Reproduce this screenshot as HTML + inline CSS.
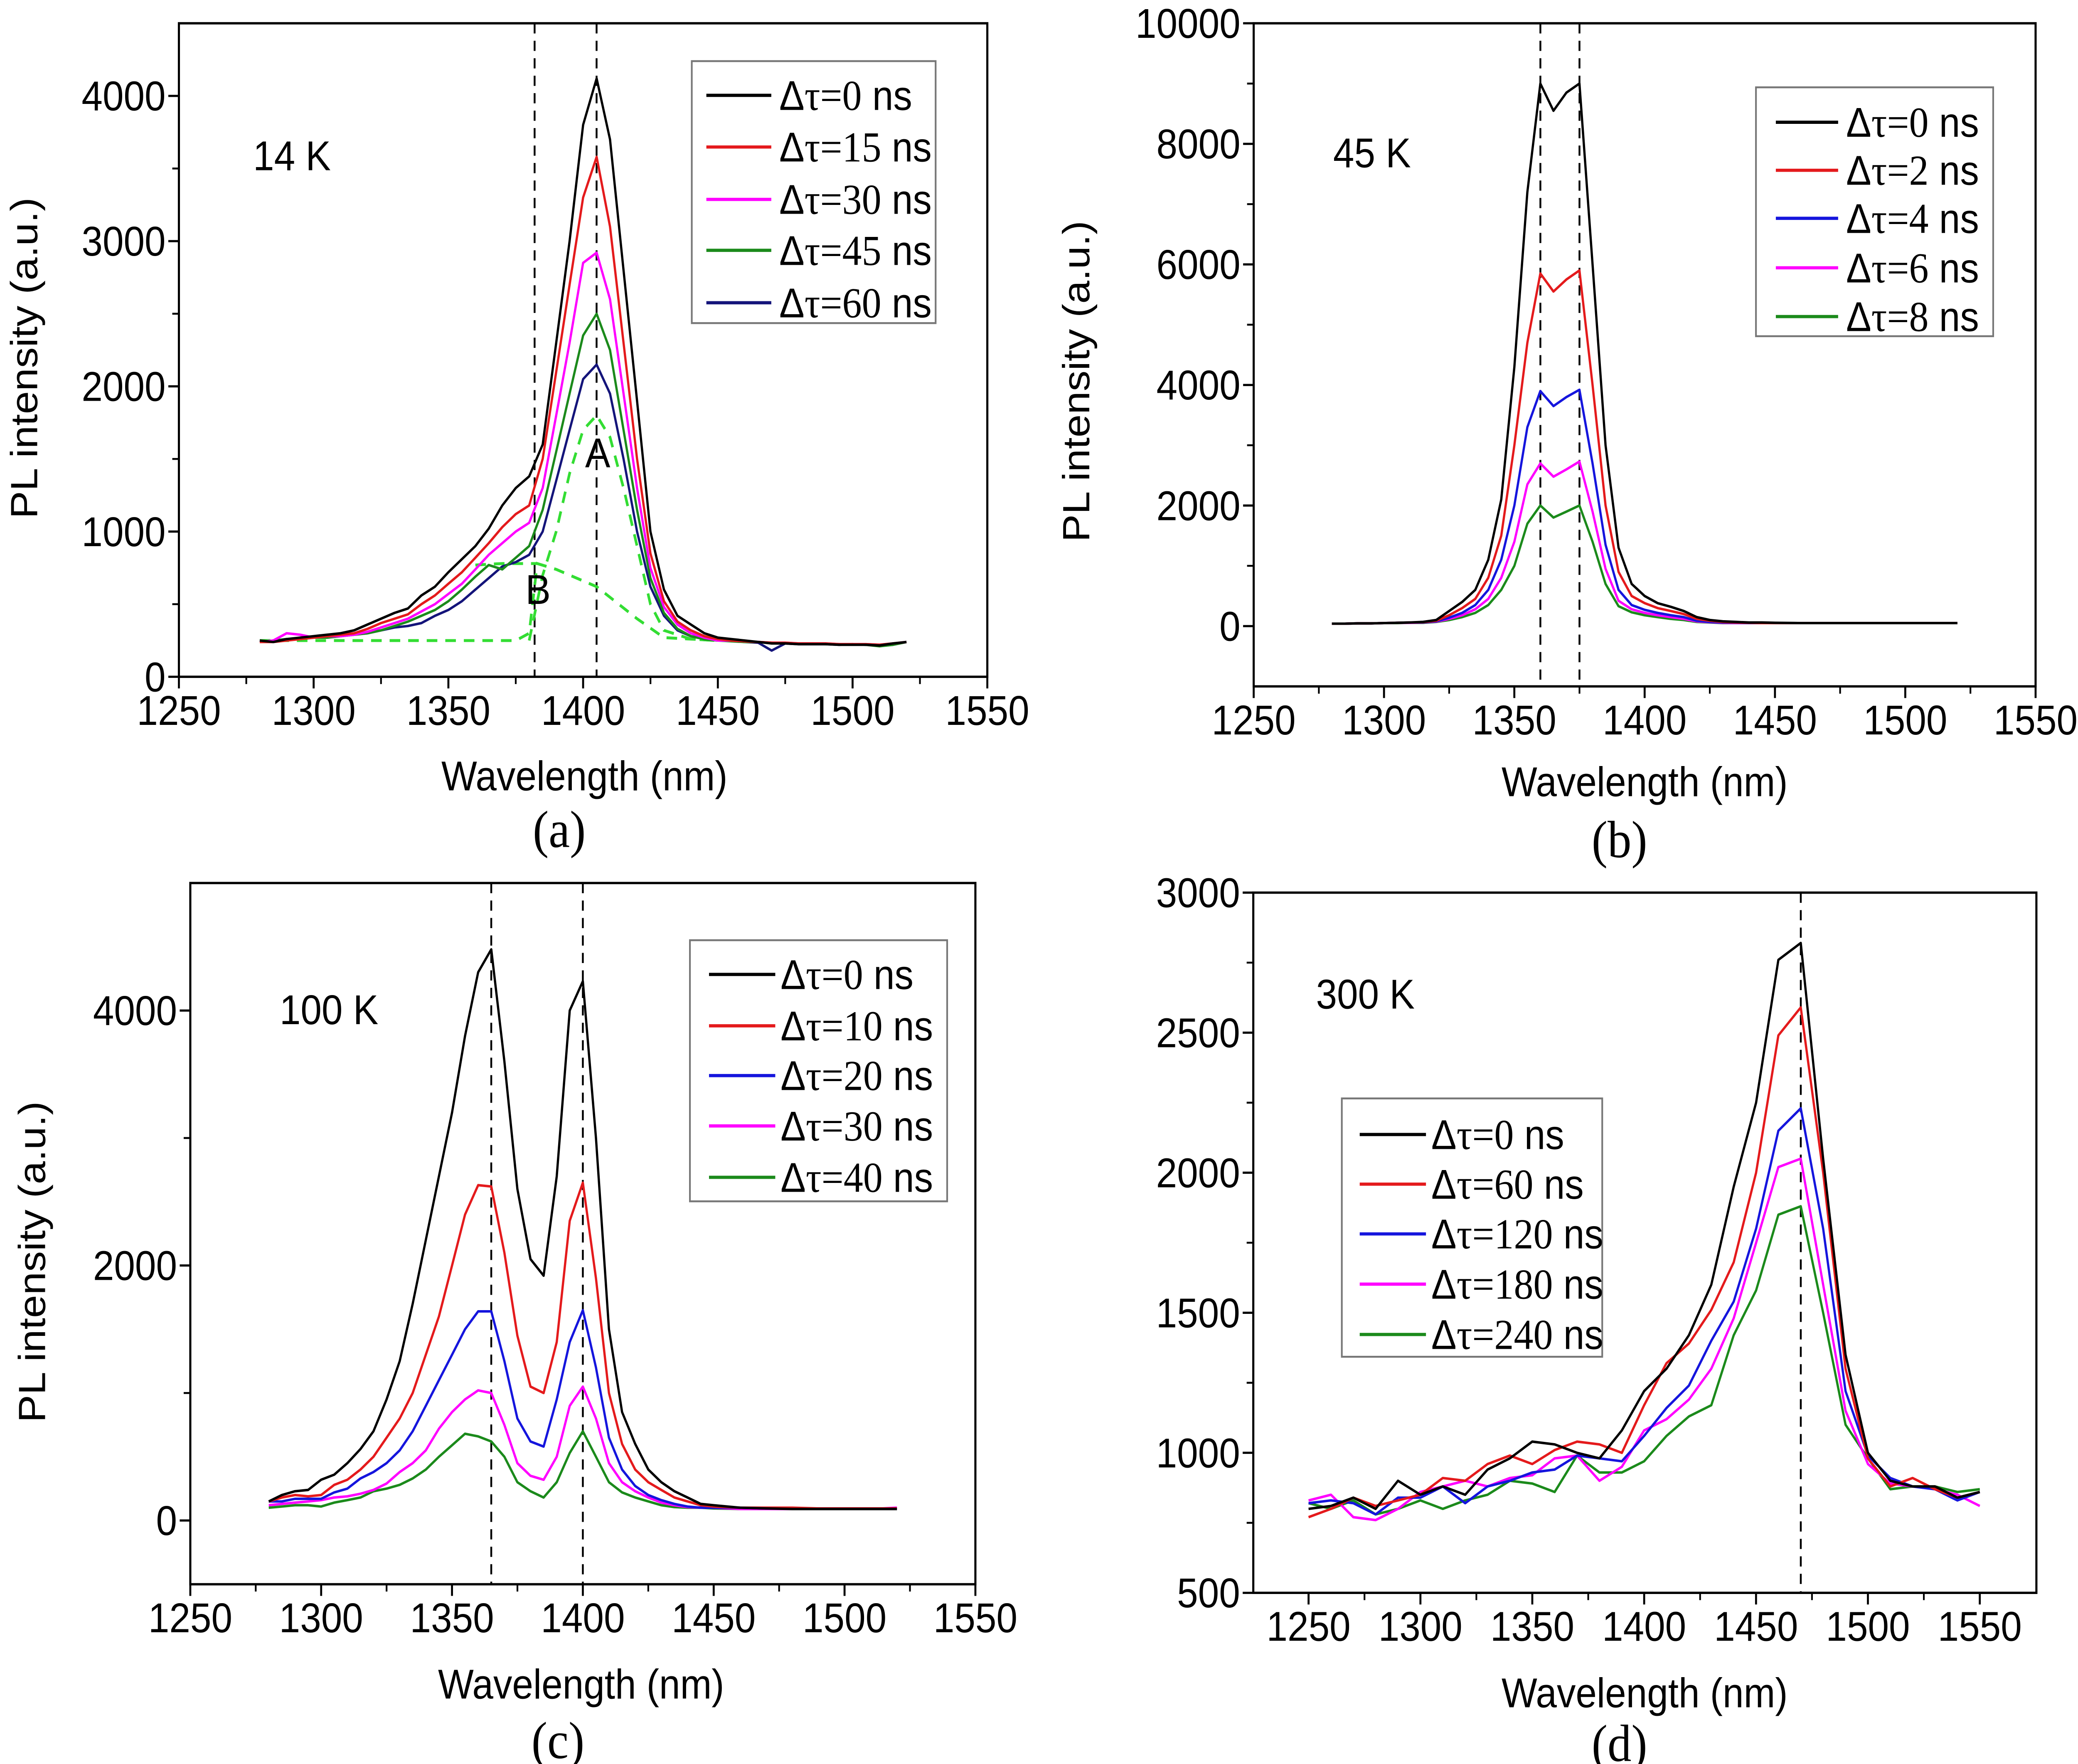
<!DOCTYPE html>
<html><head><meta charset="utf-8"><style>
html,body{margin:0;padding:0;background:#fff;width:100vw;height:100vh;overflow:hidden;}
svg{display:block;position:absolute;left:0;top:0;width:100vw;height:100vh;}
text{font-family:"Liberation Sans",sans-serif;fill:#000;}
.serif{font-family:"Liberation Serif",serif;}
</style></head><body>
<svg id="fig" xmlns="http://www.w3.org/2000/svg" viewBox="0 0 1568 1212" preserveAspectRatio="none"></svg>
<script>
// ---------- data ----------
const xA = [1280,1285,1290,1295,1300,1305,1310,1315,1320,1325,1330,1335,1340,1345,1350,1355,1360,1365,1370,1375,1380,1385,1390,1395,1400,1405,1410,1415,1420,1425,1430,1435,1440,1445,1450,1455,1460,1465,1470,1475,1480,1485,1490,1495,1500,1505,1510,1515,1520];
const a0  = [250,240,260,270,280,290,300,320,360,400,440,470,560,620,720,810,900,1020,1180,1300,1380,1600,2300,3000,3800,4120,3700,2800,1900,1000,600,420,360,300,270,260,250,240,230,230,225,225,225,220,220,220,215,230,240];
const a15 = [240,240,250,260,270,280,290,300,330,370,400,430,500,560,640,720,820,920,1030,1120,1180,1500,2100,2700,3300,3580,3100,2300,1500,850,520,380,320,280,260,250,245,240,235,235,230,230,230,225,225,225,220,230,240];
const a30 = [240,250,300,290,270,280,280,290,310,340,370,400,450,500,570,640,740,840,920,1000,1060,1300,1800,2300,2850,2920,2600,1950,1300,750,480,360,300,270,250,250,245,240,235,235,230,230,230,225,225,225,220,230,240];
const a45 = [240,250,260,260,270,270,280,290,300,320,350,380,420,460,520,600,690,770,740,820,900,1150,1550,1950,2350,2500,2250,1700,1150,680,440,330,280,260,250,245,240,240,235,230,230,230,225,225,225,220,210,220,240];
const a60 = [240,250,260,260,270,270,280,290,300,320,340,350,370,420,460,520,600,680,760,790,840,1000,1350,1700,2050,2150,1950,1500,1000,620,420,320,280,260,250,250,240,235,180,230,225,225,225,220,225,220,215,220,240];
const fitAx = [1380,1385,1390,1395,1400,1405,1410,1415,1420,1425,1430,1440,1450];
const fitAy = [250,700,1000,1400,1700,1800,1650,1300,900,500,320,260,250];
const fitBx = [1280,1375,1380,1383,1390,1405,1420,1430,1450];
const fitBy = [250,250,300,780,740,620,400,270,250];
const fitCx = [1360,1370,1383];
const fitCy = [770,780,780];

const xB = [1280,1285,1290,1295,1300,1305,1310,1315,1320,1325,1330,1335,1340,1345,1350,1355,1360,1365,1370,1375,1380,1385,1390,1395,1400,1405,1410,1415,1420,1425,1430,1435,1440,1445,1450,1460,1470,1480,1490,1500,1510,1520];
const b0 = [40,40,45,45,50,55,60,70,100,250,400,600,1100,2100,4300,7200,9000,8550,8850,9000,6000,3000,1300,700,500,380,320,250,150,100,80,70,60,60,55,50,50,50,50,50,50,50];
const b2 = [40,40,45,45,50,55,60,65,90,180,300,450,800,1500,3000,4700,5850,5550,5750,5900,4000,2000,900,500,380,300,250,200,120,90,70,60,55,50,50,50,50,50,50,50,50,50];
const b4 = [40,40,45,45,50,55,60,60,80,140,220,350,600,1100,2000,3300,3900,3650,3800,3920,2700,1350,600,350,270,220,180,150,90,70,60,55,50,50,50,50,50,50,50,50,50,50];
const b6 = [40,40,45,45,50,55,55,60,75,120,180,280,450,800,1400,2350,2700,2480,2600,2730,1900,950,420,280,220,180,150,120,80,65,55,50,50,50,50,50,50,50,50,50,50,50];
const b8 = [40,40,45,45,50,50,55,55,70,100,150,220,350,600,1000,1700,2000,1800,1900,2000,1400,700,330,230,180,150,120,100,70,60,50,50,50,50,50,50,50,50,50,50,50,50];

const xC = [1280,1285,1290,1295,1300,1305,1310,1315,1320,1325,1330,1335,1340,1345,1350,1355,1360,1365,1370,1375,1380,1385,1390,1395,1400,1405,1410,1415,1420,1425,1430,1435,1440,1445,1450,1460,1470,1480,1490,1500,1510,1520];
const c0  = [150,200,230,240,320,360,450,560,700,950,1250,1700,2200,2700,3200,3800,4300,4480,3600,2600,2050,1920,2700,4000,4230,3000,1500,850,600,400,300,230,180,130,120,100,95,90,90,90,90,90];
const c10 = [150,180,200,190,200,280,320,400,500,650,800,1000,1300,1600,2000,2400,2630,2620,2100,1450,1050,1000,1400,2350,2650,1900,1000,600,400,300,240,180,150,120,110,100,100,100,95,95,95,95];
const c20 = [150,150,170,170,170,220,250,330,380,450,550,700,900,1100,1300,1500,1640,1640,1250,800,620,580,950,1400,1650,1200,650,400,270,200,160,130,110,100,100,100,95,95,95,95,95,95];
const c30 = [120,130,140,150,160,180,190,210,240,290,380,450,550,720,850,950,1020,1000,750,450,350,320,500,900,1050,800,450,300,230,180,140,120,105,100,100,90,90,90,90,90,90,100];
const c40 = [100,110,120,120,110,140,160,180,230,250,280,330,400,500,590,680,660,620,500,300,230,180,300,530,700,500,300,220,180,150,120,105,100,100,95,90,90,90,90,90,90,90];

const xD = [1250,1260,1270,1280,1290,1300,1310,1320,1330,1340,1350,1360,1370,1380,1390,1400,1410,1420,1430,1440,1450,1460,1470,1480,1490,1500,1510,1520,1530,1540,1550];
const d0   = [800,810,840,800,900,850,880,850,940,980,1040,1030,1000,980,1080,1220,1300,1420,1600,1950,2250,2760,2820,2050,1350,1000,900,880,880,840,860];
const d60  = [770,800,840,810,830,850,910,900,960,990,960,1010,1040,1030,1000,1170,1320,1390,1510,1680,2000,2490,2590,2000,1300,980,880,910,870,840,860];
const d120 = [820,830,820,780,840,840,880,820,880,900,930,940,990,980,970,1060,1160,1240,1400,1540,1800,2150,2230,1800,1220,990,910,880,870,830,860];
const d180 = [830,850,770,760,800,860,880,900,880,910,920,980,990,900,950,1080,1120,1190,1300,1480,1750,2020,2050,1600,1150,960,890,880,870,850,810];
const d240 = [820,800,830,780,800,830,800,830,850,900,890,860,990,930,930,970,1060,1130,1170,1420,1580,1850,1880,1500,1100,980,870,880,880,860,870];

const xTicks = [1250,1300,1350,1400,1450,1500,1550];
const yTicksA = [0,1000,2000,3000,4000];
const yTicksB = [0,2000,4000,6000,8000,10000];
const yTicksC = [0,2000,4000];
const yTicksD = [500,1000,1500,2000,2500,3000];
const legendA = ["0","15","30","45","60"];
const legendB = ["0","2","4","6","8"];
const legendC = ["0","10","20","30","40"];
const legendD = ["0","60","120","180","240"];
const dashA = [1382,1405];
const dashB = [1360,1375];
const dashC = [1365,1400];
const dashD = [1470];

// ---------- drawing ----------
const NS = "http://www.w3.org/2000/svg";
const svg = document.getElementById("fig");
const FS = 28.5;
function el(tag, parent, attrs){
  const e = document.createElementNS(NS, tag);
  for (const k in attrs) e.setAttribute(k, attrs[k]);
  parent.appendChild(e);
  return e;
}
const BLK="#000", RED="#e41a1c", MAG="#ff00ff", GRN="#1b8a1b", NAV="#14147a", BLU="#1515dd";

function panel(cfg){
  const g = el("g", svg, {});
  
  
  const b = cfg.box;
  const sx = v => b.x0 + (v - cfg.xd[0]) / (cfg.xd[1] - cfg.xd[0]) * (b.x1 - b.x0);
  const sy = v => b.y1 - (v - cfg.yd[0]) / (cfg.yd[1] - cfg.yd[0]) * (b.y1 - b.y0);
  const fr = el("rect", g, {x:b.x0, y:b.y0, width:b.x1-b.x0, height:b.y1-b.y0, fill:"none", stroke:"#000", "stroke-width":1.6});
  
  
  for (let i = 0; i < xTicks.length; i++) {
    const v = xTicks[i], X = sx(v);
    const t = el("line", g, {x1:X, x2:X, y1:b.y1, y2:b.y1+8, stroke:"#000", "stroke-width":1.5});
    
    
    const lb = el("text", g, {x:X, y:b.y1+33, "font-size":FS, "text-anchor":"middle"});
    lb.textContent = v;
    
    
    if (i < xTicks.length - 1) {
      const mx = sx(v + 25);
      const m = el("line", g, {x1:mx, x2:mx, y1:b.y1, y2:b.y1+5, stroke:"#000", "stroke-width":1.3});
      
      
    }
  }
  const yt = cfg.yt;
  const step = yt[1] - yt[0];
  for (let i = 0; i < yt.length; i++) {
    const v = yt[i], Y = sy(v);
    const t = el("line", g, {x1:b.x0-8, x2:b.x0, y1:Y, y2:Y, stroke:"#000", "stroke-width":1.5});
    
    
    const lb = el("text", g, {x:b.x0-10, y:Y+10, "font-size":FS, "text-anchor":"end"});
    lb.textContent = v;
    
    
  }
  for (let v = yt[0] - step/2; v < cfg.yd[1]; v += step) {
    if (v <= cfg.yd[0]) continue;
    const Y = sy(v);
    const m = el("line", g, {x1:b.x0-5, x2:b.x0, y1:Y, y2:Y, stroke:"#000", "stroke-width":1.3});
    
    
  }
  cfg.dash.forEach(v => {
    const d = el("line", g, {x1:sx(v), x2:sx(v), y1:b.y0, y2:b.y1, stroke:"#000", "stroke-width":1.4, "stroke-dasharray":"7,5"});
    
    
  });
  (cfg.fits || []).forEach(f => {
    const pts = f.x.map((v,i) => sx(v).toFixed(1) + "," + sy(f.y[i]).toFixed(1)).join(" ");
    const p = el("polyline", g, {points:pts, fill:"none", stroke:"#33dd33", "stroke-width":2, "stroke-dasharray":"8,6"});
    
    
  });
  for (let s = cfg.series.length - 1; s >= 0; s--) {
    const ys = cfg.series[s];
    const pts = cfg.x.map((v,i) => sx(v).toFixed(1) + "," + sy(ys[i]).toFixed(1)).join(" ");
    const p = el("polyline", g, {points:pts, fill:"none", stroke:cfg.colors[s], "stroke-width":1.7, "stroke-linejoin":"round"});
    
    
  }
  const L = cfg.leg;
  const lg = el("g", g, {});
  
  
  const lr = el("rect", lg, {x:L.x0, y:L.y0, width:L.x1-L.x0, height:L.y1-L.y0, fill:"#fff", stroke:"#777", "stroke-width":1.3});
  
  
  for (let i = 0; i < cfg.legend.length; i++) {
    const Y = L.ys[i];
    const ln = el("line", lg, {x1:L.lx0, x2:L.lx1, y1:Y, y2:Y, stroke:cfg.colors[i], "stroke-width":2.2});
    
    
    const tx = el("text", lg, {x:L.tx, y:Y+10, "font-size":FS});
    
    
    const t1 = el("tspan", tx, {}); t1.textContent = "Δ";
    const t2 = el("tspan", tx, {"class":"serif", "font-size":FS+1}); t2.textContent = "τ=" + cfg.legend[i];
    const t3 = el("tspan", tx, {}); t3.textContent = " ns";
  }
  const tl = el("text", g, {x:cfg.temp[0], y:cfg.temp[1], "font-size":FS});
  tl.textContent = cfg.temp[2];
  
  
  const xt = el("text", g, {x:cfg.xt[0], y:cfg.xt[1], "font-size":FS, "text-anchor":"middle"});
  xt.textContent = "Wavelength (nm)";
  
  
  if (cfg.ytl) {
    const yl = el("text", g, {x:0, y:0, "font-size":FS, "text-anchor":"middle", transform:"translate(" + cfg.ytl[0] + "," + cfg.ytl[1] + ") rotate(-90)"});
    yl.textContent = "PL intensity (a.u.)";
    
    
  }
  const pl = el("text", g, {x:cfg.pl[0], y:cfg.pl[1], "font-size":36, "text-anchor":"middle", "class":"serif"});
  pl.textContent = cfg.pl[2];
  
  
  (cfg.notes || []).forEach(n => {
    const t = el("text", g, {x:n[0], y:n[1], "font-size":FS, "text-anchor":"middle"});
    t.textContent = n[2];
    
    
  });
}

panel({id:"a", box:{x0:135,x1:745,y0:16,y1:465}, xd:[1250,1550], yd:[0,4500], yt:yTicksA,
  x:xA, series:[a0,a15,a30,a45,a60], colors:[BLK,RED,MAG,GRN,NAV], legend:legendA, dash:dashA,
  fits:[{name:"fit-peak-a",x:fitAx,y:fitAy},{name:"fit-peak-b",x:fitBx,y:fitBy},{name:"fit-shoulder",x:fitCx,y:fitCy}],
  leg:{x0:522,x1:706,y0:42,y1:222,ys:[65.5,101,137,172,208],lx0:533,lx1:582,tx:588},
  temp:[191,117,"14 K"], xt:[441,543], ytl:[28,246], pl:[422,582,"(a)"], notes:[[451,321,"A"],[406,415,"B"]]});
panel({id:"b", box:{x0:946,x1:1536,y0:16,y1:471.6}, xd:[1250,1550], yd:[-1000,10000], yt:yTicksB,
  x:xB, series:[b0,b2,b4,b6,b8], colors:[BLK,RED,BLU,MAG,GRN], legend:legendB, dash:dashB,
  leg:{x0:1325,x1:1504,y0:60,y1:231,ys:[84,117,150,184,217.5],lx0:1340,lx1:1387,tx:1393},
  temp:[1006,115,"45 K"], xt:[1241,547], ytl:[822,262], pl:[1222,589,"(b)"]});
panel({id:"c", box:{x0:143.6,x1:736,y0:606.7,y1:1088.5}, xd:[1250,1550], yd:[-500,5000], yt:yTicksC,
  x:xC, series:[c0,c10,c20,c30,c40], colors:[BLK,RED,BLU,MAG,GRN], legend:legendC, dash:dashC,
  leg:{x0:520.6,x1:714.7,y0:646,y1:825.4,ys:[669.5,704.8,739,773.6,808.9],lx0:535,lx1:585,tx:589},
  temp:[211,703.7,"100 K"], xt:[438.5,1167], ytl:[34,867], pl:[421,1208,"(c)"]});
panel({id:"d", box:{x0:945.7,x1:1536.6,y0:613.3,y1:1094.4}, xd:[1225.3,1575.3], yd:[500,3000], yt:yTicksD,
  x:xD, series:[d0,d60,d120,d180,d240], colors:[BLK,RED,BLU,MAG,GRN], legend:legendD, dash:dashD,
  leg:{x0:1012.5,x1:1209,y0:754.7,y1:932.2,ys:[779.5,813.6,847.8,882.3,916.9],lx0:1026,lx1:1076,tx:1080},
  temp:[993,693,"300 K"], xt:[1241,1173], pl:[1222,1210,"(d)"]});
</script>
</body></html>
